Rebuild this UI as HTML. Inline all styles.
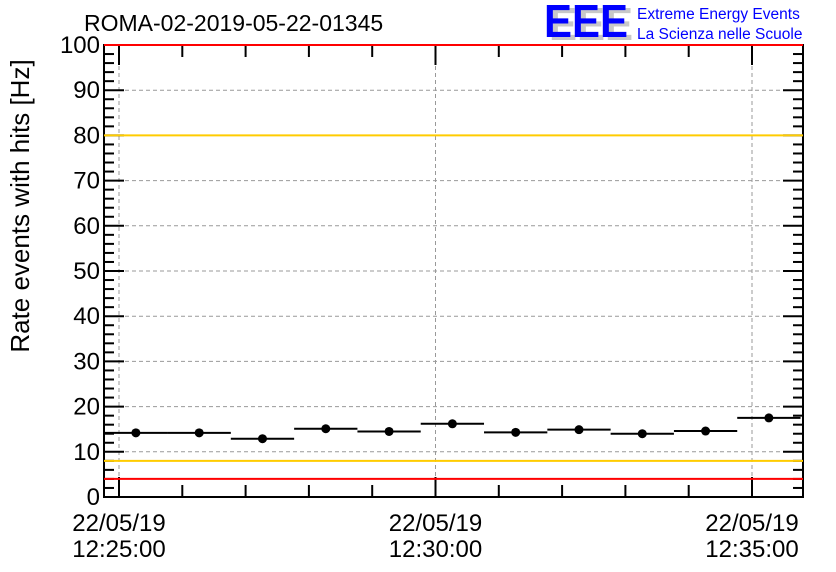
<!DOCTYPE html>
<html><head><meta charset="utf-8"><style>
body{margin:0;background:#fff;}
svg{display:block;font-family:"Liberation Sans",sans-serif;}
</style></head><body>
<svg id="c" width="836" height="572">
<text x="84" y="31" font-size="23" fill="#000">ROMA-02-2019-05-22-01345</text>
<g>
<text x="549" y="40" font-size="46" font-weight="bold" fill="#c8c8c8" textLength="84" lengthAdjust="spacingAndGlyphs">EEE</text>
<text x="544" y="37" font-size="46" font-weight="bold" fill="#0000ff" textLength="84" lengthAdjust="spacingAndGlyphs">EEE</text>
<text x="637" y="19" font-size="15.5" fill="#0000ff">Extreme Energy Events</text>
<text x="637" y="39" font-size="15.5" fill="#0000ff">La Scienza nelle Scuole</text>
</g>
<text transform="translate(29,206) rotate(-90)" text-anchor="middle" font-size="26">Rate events with hits [Hz]</text>
<g id="plot"></g>
</svg>
<script>
const binStartSec = -14; // first bin start relative to 12:25:00
const binWidthSec = 60;
const rates = [14.2, 14.2, 12.9, 15.1, 14.5, 16.2, 14.3, 14.9, 14.0, 14.6, 17.5];
const yTicks = [0,10,20,30,40,50,60,70,80,90,100];
const xLabelSecs = [0, 300, 600];
const xLabelDates = ["22/05/19","22/05/19","22/05/19"];
const xLabelTimes = ["12:25:00","12:30:00","12:35:00"];
const redLines = [100, 4];
const yellowLines = [80, 8];

const L=104,R=803,T=45,B=497;
const xs=s=>119+s*316.5/300;
const ys=v=>B-(v/100)*(B-T);
const g=document.getElementById('plot');
const NS='http://www.w3.org/2000/svg';
function mk(t,a,p){const e=document.createElementNS(NS,t);for(const k in a)e.setAttribute(k,a[k]);(p||g).appendChild(e);return e;}

// grid
yTicks.forEach(v=>{if(v>0&&v<100){
 const l=mk('line',{x1:L,x2:R,y1:ys(v),y2:ys(v),stroke:'#999','stroke-dasharray':'4,3','stroke-width':1});
 
 }});
xLabelSecs.forEach(s=>{
 const l=mk('line',{x1:xs(s),x2:xs(s),y1:T,y2:B,stroke:'#999','stroke-dasharray':'4,3','stroke-width':1});
 
 });
// frame
const fr=mk('rect',{x:L,y:T,width:R-L,height:B-T,fill:'none',stroke:'#000','stroke-width':2});


// y ticks
for(let v=0;v<=100;v+=2){const maj=v%10===0;const len=maj?20:10;
 mk('line',{x1:L,x2:L+len,y1:ys(v),y2:ys(v),stroke:'#000','stroke-width':2});
 mk('line',{x1:R-len,x2:R,y1:ys(v),y2:ys(v),stroke:'#000','stroke-width':2});}
yTicks.forEach(v=>{const t=mk('text',{x:L-4,y:ys(v)+8,'text-anchor':'end','font-size':24});t.textContent=v;
 
 });
// x ticks
for(let s=0;xs(s)<R;s+=60){const maj=s%300===0;const len=maj?20:12;
 mk('line',{x1:xs(s),x2:xs(s),y1:B-len,y2:B,stroke:'#000','stroke-width':2});
 mk('line',{x1:xs(s),x2:xs(s),y1:T,y2:T+len,stroke:'#000','stroke-width':2});}
xLabelSecs.forEach((s,i)=>{
 const t1=mk('text',{x:xs(s),y:531,'text-anchor':'middle','font-size':24});t1.textContent=xLabelDates[i];
 
 
 const t2=mk('text',{x:xs(s),y:557,'text-anchor':'middle','font-size':24});t2.textContent=xLabelTimes[i];
 
 });
// threshold lines (drawn over frame)
yellowLines.forEach(v=>{const l=mk('line',{x1:L,x2:R,y1:ys(v),y2:ys(v),stroke:'#ffcc00','stroke-width':2});
 
 });
redLines.forEach(v=>{const l=mk('line',{x1:L,x2:R,y1:ys(v),y2:ys(v),stroke:'#ff0000','stroke-width':2});
 
 });
// data
rates.forEach((r,i)=>{
 const s0=binStartSec+i*binWidthSec, s1=s0+binWidthSec;
 const x0=Math.max(L,xs(s0)), x1=Math.min(R,xs(s1));
 const l=mk('line',{x1:x0,x2:x1,y1:ys(r),y2:ys(r),stroke:'#000','stroke-width':2});
 
 
 const c=mk('circle',{cx:xs((s0+s1)/2),cy:ys(r),r:4.5,fill:'#000'});
 
 });
</script>
</body></html>
